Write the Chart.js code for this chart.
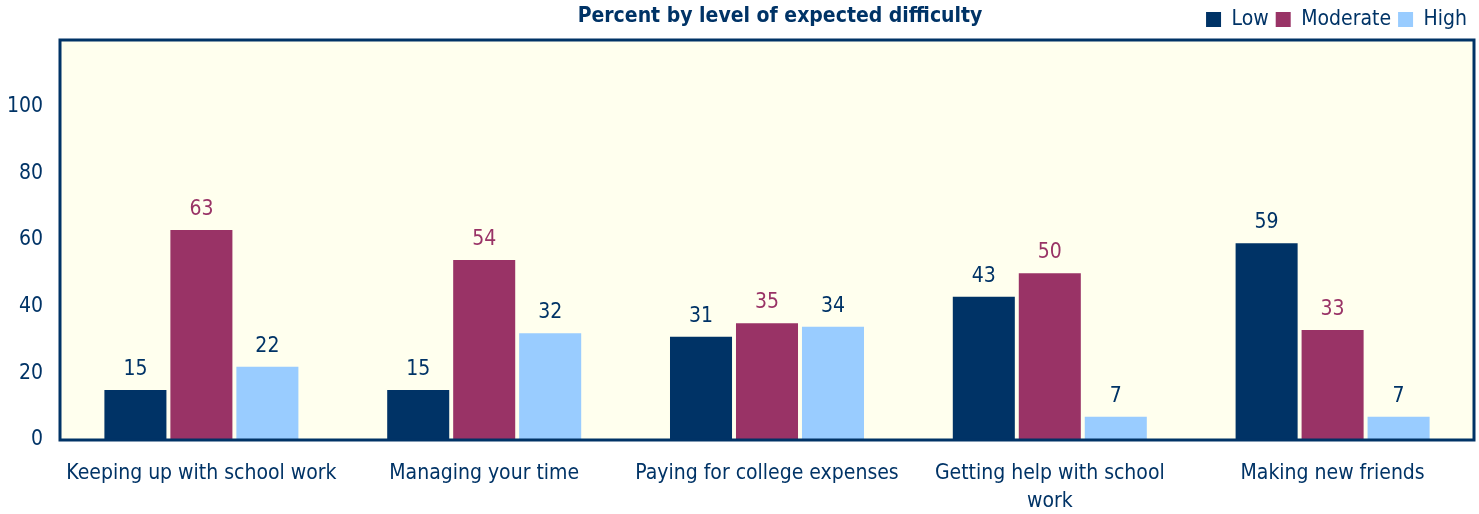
<!DOCTYPE html>
<html>
<head>
<meta charset="utf-8">
<script src="https://cdn.jsdelivr.net/npm/chart.js@4"></script>
<style>
  body { margin: 0; background: #fff; }
  #wrap { width: 1479px; height: 514px; }
</style>
</head>
<body>
<div id="wrap"><canvas id="myChart"></canvas></div>
<script>
const categories = ["Keeping up with school work", "Managing your time", "Paying for college expenses", ["Getting help with school", "work"], "Making new friends"]
const low = [15, 15, 31, 43, 59]
const moderate = [63, 54, 35, 50, 33]
const high = [22, 32, 34, 7, 7]
const yTicks = [0, 20, 40, 60, 80, 100]
const chartTitle = "Percent by level of expected difficulty"

const navy = "#003366"
const plum = "#993366"
const sky = "#99CCFF"
const fontFam = "'DejaVu Sans Condensed', 'DejaVu Sans', sans-serif"

// background, frame and title
const frame = {
  id: "frame",
  beforeDatasetsDraw(chart) {
    const a = chart.chartArea, c = chart.ctx
    c.save()
    c.fillStyle = "#FFFFEE"
    c.fillRect(a.left, a.top, a.right - a.left, a.bottom - a.top)
    c.restore()
  },
  afterDatasetsDraw(chart) {
    const a = chart.chartArea, c = chart.ctx
    c.save()
    c.strokeStyle = navy
    c.lineWidth = 3
    c.strokeRect(a.left, a.top, a.right - a.left, a.bottom - a.top)
    c.fillStyle = navy
    c.font = "bold 21px " + fontFam
    c.textAlign = "center"
    c.textBaseline = "middle"
    c.fillText(chartTitle, 780, 17)
    c.restore()
  }
}

// value labels above bars
const valueLabels = {
  id: "valueLabels",
  afterDatasetsDraw(chart) {
    const c = chart.ctx
    c.save()
    c.font = "21px " + fontFam
    c.textAlign = "center"
    c.textBaseline = "bottom"
    chart.data.datasets.forEach((ds, i) => {
      const meta = chart.getDatasetMeta(i)
      c.fillStyle = ds.labelColor
      meta.data.forEach((bar, j) => {
        c.fillText(ds.data[j], bar.x, bar.y - 10)
      })
    })
    c.restore()
  }
}

const ctx = document.getElementById("myChart")
new Chart(ctx, {
  type: "bar",
  data: {
    labels: categories,
    datasets: [
      { label: "Low", data: low, backgroundColor: navy, labelColor: navy },
      { label: "Moderate", data: moderate, backgroundColor: plum, labelColor: plum },
      { label: "High", data: high, backgroundColor: sky, labelColor: navy }
    ]
  },
  options: {
    responsive: true,
    maintainAspectRatio: false,
    animation: false,
    categoryPercentage: 0.7,
    barPercentage: 0.94,
    layout: { padding: { left: 0, right: 5, top: 2, bottom: 0 } },
    plugins: {
      legend: {
        position: "top",
        align: "end",
        labels: {
          boxWidth: 15,
          boxHeight: 15,
          padding: 7,
          color: navy,
          font: { size: 21, family: fontFam }
        }
      },
      tooltip: { enabled: false }
    },
    scales: {
      x: {
        afterFit(scale) { scale.height = 74 },
        grid: { display: false },
        border: { display: false },
        ticks: { color: navy, font: { size: 21, family: fontFam, lineHeight: 1.35 }, maxRotation: 0, padding: 11 }
      },
      y: {
        min: 0,
        max: 120,
        afterBuildTicks(scale) {
          scale.ticks = yTicks.map(v => ({ value: v }))
        },
        afterFit(scale) { scale.width = 60 },
        grid: { display: false },
        border: { display: false },
        ticks: { color: navy, font: { size: 21, family: fontFam }, padding: 9 }
      }
    }
  },
  plugins: [frame, valueLabels]
})
</script>
</body>
</html>
